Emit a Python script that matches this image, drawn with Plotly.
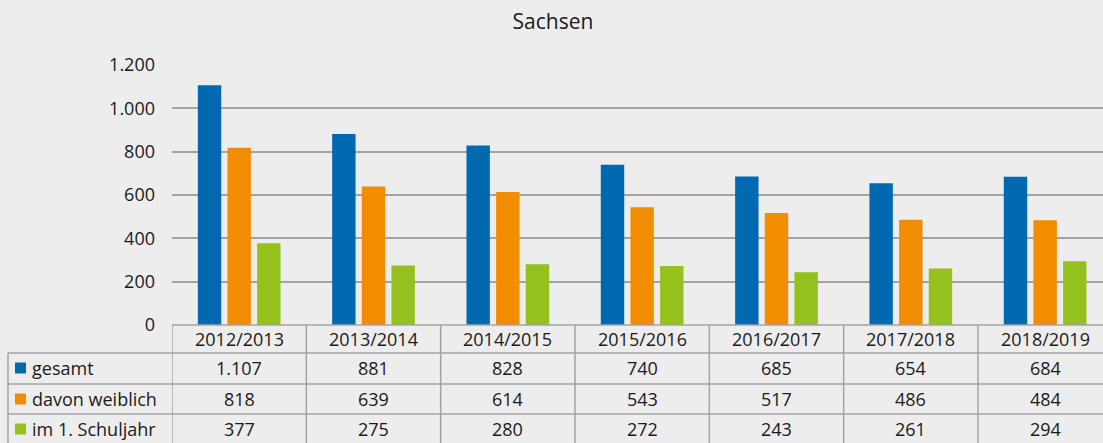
import plotly.graph_objects as go

categories = ["2012/2013", "2013/2014", "2014/2015", "2015/2016", "2016/2017", "2017/2018", "2018/2019"]
gesamt = [1107, 881, 828, 740, 685, 654, 684]
weiblich = [818, 639, 614, 543, 517, 486, 484]
schuljahr1 = [377, 275, 280, 272, 243, 261, 294]
series_names = ["gesamt", "davon weiblich", "im 1. Schuljahr"]
colors = ["#0069b0", "#f28c00", "#95c11f"]
y_ticks = [0, 200, 400, 600, 800, 1000, 1200]

W, H = 1103, 443
ML, MR, MT, MB = 172, 0, 65, 118
PW, PH = W - ML - MR, H - MT - MB
FONT = "Open Sans"
GRID = "#a3a3a3"
BG = "#ededed"
TXT = "#1a1a1a"

def fmt(v):
    return f"{v:,}".replace(",", ".")

def py(ypix):  # screen pixel y -> paper y
    return (MT + PH - ypix) / PH

def px(xpix):  # screen pixel x -> paper x
    return (xpix - ML) / PW

fig = go.Figure()
data = [gesamt, weiblich, schuljahr1]
for name, vals, col in zip(series_names, data, colors):
    fig.add_trace(go.Bar(x=categories, y=vals, name=name, marker_color=col,
                         marker_line_width=0, showlegend=False, hoverinfo="x+y+name"))

n = len(categories)
cat_w = 134.33
xr_max = -0.5 + PW / cat_w

shapes = []
annotations = []
line = dict(color=GRID, width=1.5)
row_lines = [325, 353, 384, 414]
for i, yl in enumerate(row_lines):
    x0 = px(172) if i == 0 else px(8)
    shapes.append(dict(type="line", xref="paper", yref="paper", x0=x0, x1=1.0,
                       y0=py(yl), y1=py(yl), line=line))
shapes.append(dict(type="line", xref="paper", yref="paper", x0=px(8), x1=px(8),
                   y0=py(353), y1=py(450), line=line))
for i in range(n + 1):
    shapes.append(dict(type="line", xref="x", yref="paper", x0=i - 0.5, x1=i - 0.5,
                       y0=py(325), y1=py(450), line=line))

row_centers = [339, 368, 399, 429]
for i, c in enumerate(categories):
    annotations.append(dict(x=i, y=py(row_centers[0]), xref="x", yref="paper",
                            text=c, showarrow=False, xanchor="center", yanchor="middle",
                            font=dict(family=FONT, size=18, color=TXT)))
for r, (name, vals, col) in enumerate(zip(series_names, data, colors)):
    yc = row_centers[r + 1]
    shapes.append(dict(type="rect", xref="paper", yref="paper", x0=px(15), x1=px(26),
                       y0=py(yc + 5.5), y1=py(yc - 5.5), fillcolor=col, line=dict(width=0)))
    annotations.append(dict(x=px(30), y=py(yc), xref="paper", yref="paper",
                            text=name, showarrow=False, xanchor="left", yanchor="middle",
                            font=dict(family=FONT, size=18, color=TXT)))
    for i, v in enumerate(vals):
        annotations.append(dict(x=i, y=py(yc), xref="x", yref="paper",
                                text=fmt(v), showarrow=False, xanchor="center", yanchor="middle",
                                font=dict(family=FONT, size=18, color=TXT)))

fig.update_layout(
    width=W, height=H,
    margin=dict(l=ML, r=MR, t=MT, b=MB, pad=0),
    paper_bgcolor=BG, plot_bgcolor=BG,
    barmode="group", bargap=0.338, bargroupgap=0.21,
    separators=",.",
    title=dict(text="Sachsen", x=553 / W, xref="container", xanchor="center",
               y=1 - 22 / H, yref="container", yanchor="middle",
               font=dict(family=FONT, size=21, color=TXT)),
    xaxis=dict(range=[-0.5, xr_max], showticklabels=False, showgrid=False,
               zeroline=False, showline=False, ticks="", fixedrange=True),
    yaxis=dict(range=[0, 1200], tickvals=y_ticks, tickformat=",d",
               showgrid=True, gridcolor=GRID, gridwidth=1.5, zeroline=False,
               showline=False, ticks="", ticklabelstandoff=16,
               tickfont=dict(family=FONT, size=18, color=TXT)),
    shapes=shapes, annotations=annotations,
    font=dict(family=FONT),
)

fig.write_html(
    "out.html",
    config={"displayModeBar": False},
    post_script="document.body.style.margin='0';document.body.style.overflow='hidden';"
                "document.body.style.background='#ededed';",
)
